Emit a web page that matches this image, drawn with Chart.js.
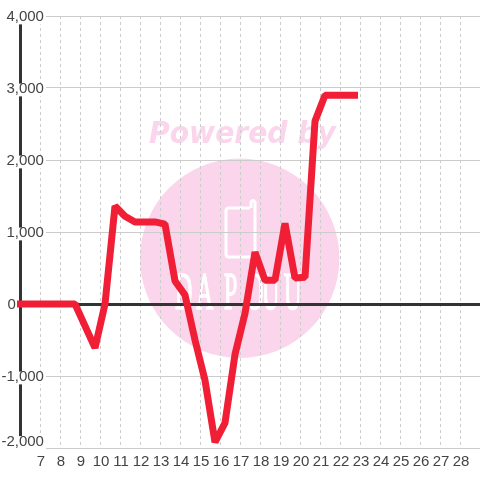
<!DOCTYPE html>
<html lang="en">
<head>
  <meta charset="UTF-8">
  <title>Hourly chart</title>
  <script src="https://cdn.jsdelivr.net/npm/chart.js"></script>
  <style>
    html, body { margin: 0; padding: 0; background: #fff; }
    canvas { display: block; }
  </style>
</head>
<body>
  <canvas id="chart" width="480" height="480"></canvas>
  <script>
    const hours = [5.85, 6.75, 7.25, 7.75, 8.25, 8.75, 9.75, 10.25, 10.75, 11.25, 11.75, 12.25, 12.75, 13.25, 13.75, 14.25, 14.75, 15.25, 15.75, 16.25, 16.75, 17.25, 17.75, 18.25, 18.75, 19.25, 19.75, 20.25, 20.75, 21.25, 21.75, 22.25, 22.75, 22.9];
    const values = [0, 0, 0, 0, 0, 0, -610, 0, 1360, 1220, 1140, 1140, 1140, 1110, 320, 125, -500, -1060, -1920, -1650, -700, -130, 720, 330, 330, 1120, 360, 370, 2540, 2900, 2900, 2900, 2900, 2900];
    const xTicks = [7, 8, 9, 10, 11, 12, 13, 14, 15, 16, 17, 18, 19, 20, 21, 22, 23, 24, 25, 26, 27, 28];
    const yTicks = [-2000, -1500, -1000, -500, 0, 500, 1000, 1500, 2000, 2500, 3000, 3500, 4000];

    // logo behind the grid
    const watermark = {
      id: 'watermark',
      beforeDraw(chart) {
        const c = chart.ctx;
        c.save();
        c.fillStyle = '#fbd5ec';
        c.beginPath();
        c.arc(239.7, 258.3, 99.7, 0, Math.PI * 2);
        c.fill();

        c.font = 'italic bold 30px "DejaVu Sans"';
        c.textAlign = 'left';
        c.textBaseline = 'alphabetic';
        c.fillText('Powered by', 149, 143, 187);

        c.strokeStyle = '#fff';
        c.lineWidth = 3;
        c.lineJoin = 'round';
        c.beginPath();
        c.moveTo(250, 208);
        c.lineTo(229, 208);
        c.quadraticCurveTo(226, 208, 226, 211);
        c.lineTo(226, 254);
        c.quadraticCurveTo(226, 257, 229, 257);
        c.lineTo(255, 257);
        c.lineTo(255, 202);
        c.quadraticCurveTo(253, 199, 251, 202);
        c.lineTo(251, 208);
        c.stroke();

        c.fillStyle = '#fff';
        c.lineWidth = 0.7;
        c.font = '24px "Liberation Sans Narrow"';
        const logoX = [175, 196, 224, 246, 262, 284];
        'DAPOUU'.split('').forEach((ch, i) => {
          c.save();
          c.translate(logoX[i], 309);
          c.scale(1, 2.2);
          c.fillText(ch, 0, 0);
          c.strokeText(ch, 0, 0);
          c.restore();
        });
        c.restore();
      }
    };

    // y labels sit 1px low, and the bottom one is pushed up inside the plot
    const nudgeLabels = {
      id: 'nudgeLabels',
      beforeDraw(chart) {
        chart.scales.y.getLabelItems().forEach(item => {
          const o = item.options;
          o.translation[1] += 1;
          if (item.label === '-2,000') {
            o.translation[1] -= 7;
            o.backdrop.top -= 0.5;
            o.backdrop.height = 13;
          }
        });
        chart.scales.x.getLabelItems().forEach(item => {
          item.options.translation[0] += 1;
        });
      }
    };

    new Chart(document.getElementById('chart'), {
      type: 'line',
      data: {
        datasets: [{
          data: hours.map((h, i) => ({ x: h, y: values[i] })),
          borderColor: '#f01f36',
          borderWidth: 7,
          borderJoinStyle: 'bevel',
          pointRadius: 0,
          tension: 0,
          clip: false
        }]
      },
      options: {
        responsive: false,
        animation: false,
        layout: { padding: { left: 20, top: 16, right: 0, bottom: 0 } },
        plugins: { legend: { display: false }, tooltip: { enabled: false } },
        scales: {
          x: {
            type: 'linear',
            min: 6,
            max: 29,
            afterBuildTicks: s => { s.ticks = xTicks.map(v => ({ value: v })); },
            afterFit: s => { s.height = 32; },
            grid: { color: '#ccc', lineWidth: 1, drawTicks: false },
            border: { display: false, dash: [3, 3] },
            ticks: {
              z: 1,
              color: '#444',
              padding: 5,
              autoSkip: false,
              maxRotation: 0,
              font: { family: '"Liberation Sans"', size: 15 },
              callback: v => String(v)
            }
          },
          y: {
            min: -2000,
            max: 4000,
            afterBuildTicks: s => { s.ticks = yTicks.map(v => ({ value: v })); },
            afterFit: s => { s.width = 0; },
            grid: {
              color: c => c.tick && c.tick.value === 0 ? '#333' : '#ccc',
              lineWidth: c => c.tick && c.tick.value === 0 ? 3 : 1,
              drawTicks: false
            },
            border: { color: '#333', width: 3 },
            ticks: {
              mirror: true,
              crossAlign: 'far',
              padding: -18.6,
              color: '#444',
              autoSkip: false,
              font: { family: '"Liberation Sans"', size: 15, lineHeight: 0.85 },
              showLabelBackdrop: true,
              backdropColor: c => c.tick && c.tick.value === 0 ? 'rgba(0,0,0,0)' : '#fff',
              backdropPadding: { top: -1, bottom: 1, left: 2, right: 2 },
              callback: v => {
                if (v % 1000 !== 0) return null;
                if (v === 0) return '0\u00a0\u00a0\u00a0\u00a0\u00a0\u00a0\u2009';
                return v.toLocaleString('en-US');
              }
            }
          }
        }
      },
      plugins: [watermark, nudgeLabels]
    });
  </script>
</body>
</html>
